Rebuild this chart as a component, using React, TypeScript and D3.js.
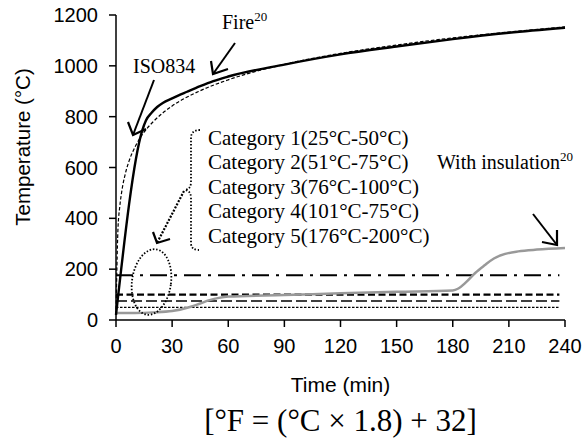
import React from "react";
import * as d3 from "d3";

// ---- data ----
const fireTime = [0, 14, 16, 19, 22, 25, 30, 38, 45, 52, 60, 90, 120, 150, 180, 210, 240];
const fireTemp = [20, 745, 785, 815, 838, 854, 872, 898, 920, 940, 958, 1005, 1045, 1076, 1105, 1130, 1150];

const isoTime = [0, 1, 2, 3, 5, 7, 10, 15, 20, 30, 45, 60, 90, 120, 150, 180, 210, 240];
const isoTemp = [20, 349, 445, 502, 576, 626, 678, 739, 781, 842, 902, 945, 1006, 1049, 1082, 1110, 1133, 1153];

const insTime = [0, 10, 20, 30, 40, 45, 50, 55, 60, 90, 120, 150, 180, 183, 187, 192, 197, 202, 208, 215, 225, 240];
const insTemp = [28, 28, 30, 35, 52, 65, 78, 87, 92, 98, 105, 111, 116, 124, 148, 185, 215, 242, 260, 270, 277, 283];

const categoryLevels = [50, 75, 100, 176];
const categoryEnd = 237;
const categoryLabels = [
  "Category 1(25°C-50°C)",
  "Category 2(51°C-75°C)",
  "Category 3(76°C-100°C)",
  "Category 4(101°C-75°C)",
  "Category 5(176°C-200°C)",
];

const xTicks = [0, 30, 60, 90, 120, 150, 180, 210, 240];
const yTicks = [0, 200, 400, 600, 800, 1000, 1200];

export default function App() {
  const W = 587, H = 444;
  const x = d3.scaleLinear().domain([0, 240]).range([116, 565]);
  const y = d3.scaleLinear().domain([0, 1200]).range([320, 15]);

  const mk = (ts: number[], vs: number[]) =>
    d3.line<number>().x((_, i) => x(ts[i])).y((v) => y(v)).curve(d3.curveMonotoneX)(vs) || "";

  const firePath = mk(fireTime, fireTemp);
  const isoPath = mk(isoTime, isoTemp);
  const insPath = mk(insTime, insTemp);

  const catStyles = [
    { dash: "2.5,1.5", w: 1.3 },
    { dash: "11,4", w: 1.5 },
    { dash: "7,3.5", w: 2.2 },
    { dash: "17,7,3,7", w: 1.8 },
  ];

  const sans = "'Liberation Sans', Arial, sans-serif";
  const serif = "'Liberation Serif', 'Times New Roman', serif";

  const arrow = (x1: number, y1: number, tx: number, ty: number, a1: [number, number], a2: [number, number], dashed = false) => (
    <g stroke="#000" fill="none" strokeLinecap="butt">
      <line x1={x1} y1={y1} x2={tx} y2={ty} strokeWidth={dashed ? 2.2 : 2} strokeDasharray={dashed ? "2,1.5" : undefined} />
      <polyline points={`${a1[0]},${a1[1]} ${tx},${ty} ${a2[0]},${a2[1]}`} strokeWidth={2.2} />
    </g>
  );

  return (
    <svg width={W} height={H} style={{ position: "absolute", left: 0, top: 0, background: "#fff" }}>
      <rect width={W} height={H} fill="#fff" />

      {/* category lines */}
      {categoryLevels.map((lv, i) => (
        <line key={lv} x1={x(0)} x2={x(categoryEnd)} y1={y(lv)} y2={y(lv)} stroke="#000"
          strokeWidth={catStyles[i].w} strokeDasharray={catStyles[i].dash} />
      ))}

      {/* curves */}
      <path d={insPath} fill="none" stroke="#999" strokeWidth={2.5} />
      <path d={isoPath} fill="none" stroke="#000" strokeWidth={1.2} strokeDasharray="3.5,2" />
      <path d={firePath} fill="none" stroke="#000" strokeWidth={2.4} />

      {/* axes */}
      <g stroke="#000" strokeWidth={1.5}>
        <line x1={x(0)} x2={x(0)} y1={y(0)} y2={y(1200)} />
        <line x1={x(0)} x2={x(240)} y1={y(0)} y2={y(0)} />
        {yTicks.map((t) => (
          <line key={"yt" + t} x1={x(0) - 7} x2={x(0)} y1={y(t)} y2={y(t)} />
        ))}
        {xTicks.map((t) => (
          <line key={"xt" + t} x1={x(t)} x2={x(t)} y1={y(0)} y2={y(0) + 7} />
        ))}
      </g>
      <g fontFamily={sans} fontSize={20} fill="#000">
        {yTicks.map((t) => (
          <text key={"yl" + t} x={x(0) - 18} y={y(t) + 7} textAnchor="end">{t}</text>
        ))}
        {xTicks.map((t) => (
          <text key={"xl" + t} x={x(t)} y={353} textAnchor="middle">{t}</text>
        ))}
        <text x={(x(0) + x(240)) / 2} y={392} textAnchor="middle" fontSize={21}>Time (min)</text>
        <text transform="translate(30,147) rotate(-90)" textAnchor="middle" fontSize={20.5}>Temperature (°C)</text>
      </g>

      {/* annotations */}
      <g fontFamily={serif} fill="#000">
        <text x={222} y={29} fontSize={20}>Fire<tspan fontSize={13} dy={-8}>20</tspan></text>
        <text x={133} y={73} fontSize={20}>ISO834</text>
        {categoryLabels.map((c, i) => (
          <text key={c} x={208} y={145 + i * 24.4} fontSize={21}>{c}</text>
        ))}
        <text x={437} y={169} fontSize={20}>With insulation<tspan fontSize={13} dy={-8}>20</tspan></text>
        <text x={340.5} y={431} fontSize={31} textAnchor="middle">[°F = (°C × 1.8) + 32]</text>
      </g>

      {/* arrows */}
      {arrow(235, 43, 213, 74, [211, 61], [228, 69])}
      {arrow(154, 80, 133, 135, [128, 122], [146, 129])}
      {arrow(533, 214, 557, 245, [542, 242], [557, 230])}

      {/* dotted brace */}
      <path d="M200,130 Q191,130 191,138 L191,182 Q191,189 185,190 Q191,191 191,198 L191,243 Q191,250 199,250"
        fill="none" stroke="#000" strokeWidth={1.8} strokeDasharray="1.5,1.8" />
      {/* dotted arrow */}
      {arrow(184, 191, 157, 243, [153, 232], [170, 239], true)}
      {/* dotted ellipse */}
      <ellipse cx={151.5} cy={282} rx={19.5} ry={33} fill="none" stroke="#000" strokeWidth={1.8}
        strokeDasharray="1.5,1.8" transform="rotate(8,151.5,282)" />
    </svg>
  );
}
